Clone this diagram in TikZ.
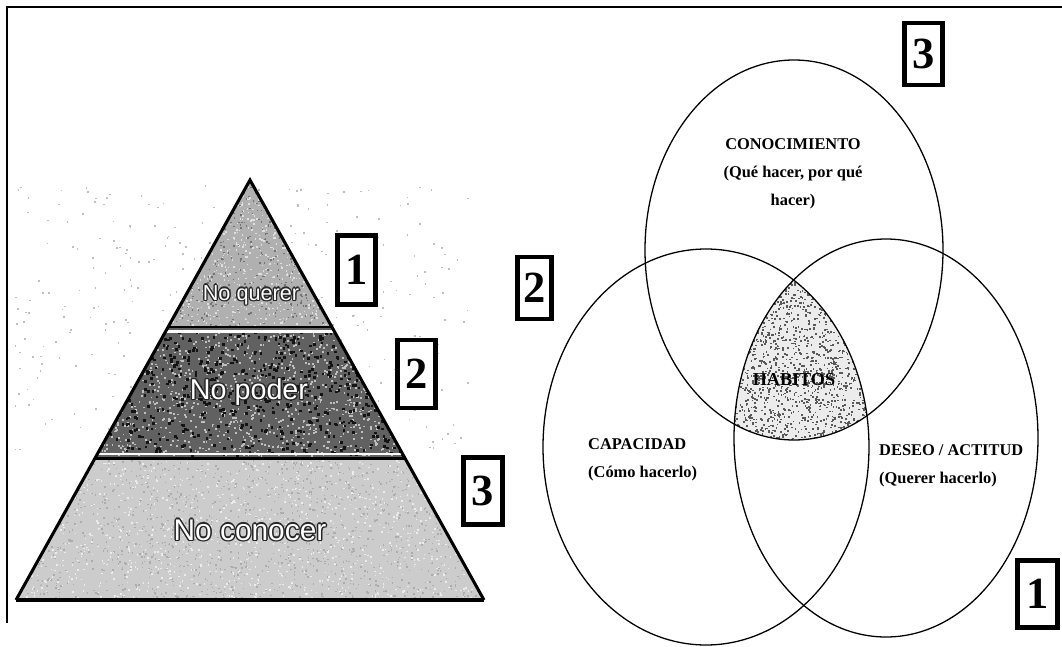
\documentclass[tikz,border=0pt]{standalone}
\usepackage{fontspec}
\setmainfont{Liberation Serif}
\newfontfamily\pyrfont{Liberation Sans}
\begin{document}
\begin{tikzpicture}[x=0.03cm,y=-0.03cm,
  numbox/.style={draw=black, line width=4.25pt, fill=white, inner sep=0pt,
    font=\bfseries\fontsize{38}{38}\selectfont},
  vennline/.style={line width=1.1pt},
  vlabel/.style={font=\bfseries\fontsize{14}{23.8}\selectfont, inner sep=0pt},
  pyrtext/.style={inner sep=0pt, text=white},
  pyrshadow/.style={inner sep=0pt, text=black!85}]
\useasboundingbox (0,0) rectangle (1062,647);
\fill[white] (0,0) rectangle (1062,647);

% frame (top and left edges)
\draw[line width=2.2pt] (7,623) -- (7,7) -- (1062,7);

% faint speckle behind the pyramid
\pgfmathsetseed{11}
\foreach \i in {1,...,320}
  \fill[gray!50] ({12+460*rnd},{185+265*rnd}) rectangle ++(1.6,1.6);

% ---------- pyramid ----------
\coordinate (apex) at (250,180);
\coordinate (bl) at (16,600);
\coordinate (br) at (484,600);
\begin{scope}
  \clip (bl) -- (apex) -- (br) -- cycle;
  \fill[gray!62] (0,175) rectangle (500,327);
  \fill[black!62] (0,327) rectangle (500,458);
  \fill[gray!40] (0,458) rectangle (500,602);
  % grain of the three bands
  \foreach \i in {1,...,800}
    \fill[gray!25] ({165+170*rnd},{180+147*rnd}) rectangle ++(1.5,1.5);
  \foreach \i in {1,...,500}
    \fill[black!55] ({165+170*rnd},{180+147*rnd}) rectangle ++(1.5,1.5);
  \foreach \i in {1,...,1100}
    \fill[gray!50] ({95+310*rnd},{330+125*rnd}) rectangle ++(1.8,1.8);
  \foreach \i in {1,...,700}
    \fill[black!92] ({95+310*rnd},{330+125*rnd}) rectangle ++(2.6,2.6);
  \foreach \i in {1,...,1500}
    \fill[gray!65] ({16+468*rnd},{460+140*rnd}) rectangle ++(1.5,1.5);
  \foreach \i in {1,...,1100}
    \fill[white!85!gray] ({16+468*rnd},{460+140*rnd}) rectangle ++(1.5,1.5);
  % band separators
  \draw[black, line width=2.2pt] (0,327) -- (500,327);
  \draw[white, line width=2pt] (0,331.5) -- (500,331.5);
  \draw[white, line width=2pt] (0,454) -- (500,454);
  \draw[black, line width=2.2pt] (0,458.5) -- (500,458.5);
\end{scope}
\draw[line width=2.6pt, line join=miter] (bl) -- (apex) -- (br);
\draw[line width=3.4pt] (bl) -- (br);

% pyramid labels: white letters with a dark rim
\foreach \a in {0,45,...,315} {
  \node[pyrshadow, font=\pyrfont\fontsize{18.5}{18.5}\selectfont,
        shift={(\a:1.3)}] at (251,295) {No querer};
  \node[pyrshadow, font=\pyrfont\fontsize{24.5}{24.5}\selectfont,
        shift={(\a:1.4)}] at (249,392) {No poder};
  \node[pyrshadow, font=\pyrfont\fontsize{25.5}{25.5}\selectfont,
        shift={(\a:1.4)}] at (250,530) {No conocer};
}
\node[pyrtext, font=\pyrfont\fontsize{18.5}{18.5}\selectfont] (tquerer) at (251,295) {No querer};
\node[pyrtext, font=\pyrfont\fontsize{24.5}{24.5}\selectfont] (tpoder) at (249,392) {No poder};
\node[pyrtext, font=\pyrfont\fontsize{25.5}{25.5}\selectfont] (tconocer) at (250,530) {No conocer};

% level numbers beside the pyramid
\node[numbox, minimum width=1.14cm, minimum height=2.07cm] (p1) at (356.5,270) {1};
\node[numbox, minimum width=1.14cm, minimum height=2.04cm] (p2) at (416.5,374) {2};
\node[numbox, minimum width=1.17cm, minimum height=2.01cm] (p3) at (483,491) {3};

% ---------- Venn diagram ----------
\coordinate (ctop) at (794,250);
\coordinate (cleft) at (706,447);
\coordinate (cright) at (886,438);
% shaded common region
\begin{scope}
  \clip (ctop) ellipse [x radius=149, y radius=190];
  \clip (cleft) ellipse [x radius=163, y radius=198];
  \clip (cright) ellipse [x radius=152, y radius=199];
  \fill[gray!15] (700,250) rectangle (900,460);
  \foreach \i in {1,...,1900}
    \fill[black!65] ({725+150*rnd},{265+180*rnd}) rectangle ++(1.7,1.7);
\end{scope}
\draw[vennline] (ctop) ellipse [x radius=149, y radius=190];
\draw[vennline] (cleft) ellipse [x radius=163, y radius=198];
\draw[vennline] (cright) ellipse [x radius=152, y radius=199];

\node[vlabel, align=center] (conoc) at (793,174)
  {CONOCIMIENTO\\(Qué hacer, por qué\\hacer)};
\node[vlabel, align=left, anchor=west] (capac) at (588,460)
  {CAPACIDAD\\(Cómo hacerlo)};
\node[vlabel, align=left, anchor=west] (deseo) at (879,466)
  {DESEO / ACTITUD\\(Querer hacerlo)};
\node[vlabel, font=\bfseries\fontsize{15.5}{15.5}\selectfont] (habit) at (794,380) {HABITOS};

\node[numbox, minimum width=1.02cm, minimum height=1.86cm] (v2) at (534.5,288) {2};
\node[numbox, minimum width=1.14cm, minimum height=1.86cm] (v3) at (923.5,54) {3};
\node[numbox, minimum width=1.20cm, minimum height=2.01cm] (v1) at (1037.5,594) {1};
\end{tikzpicture}
\end{document}
